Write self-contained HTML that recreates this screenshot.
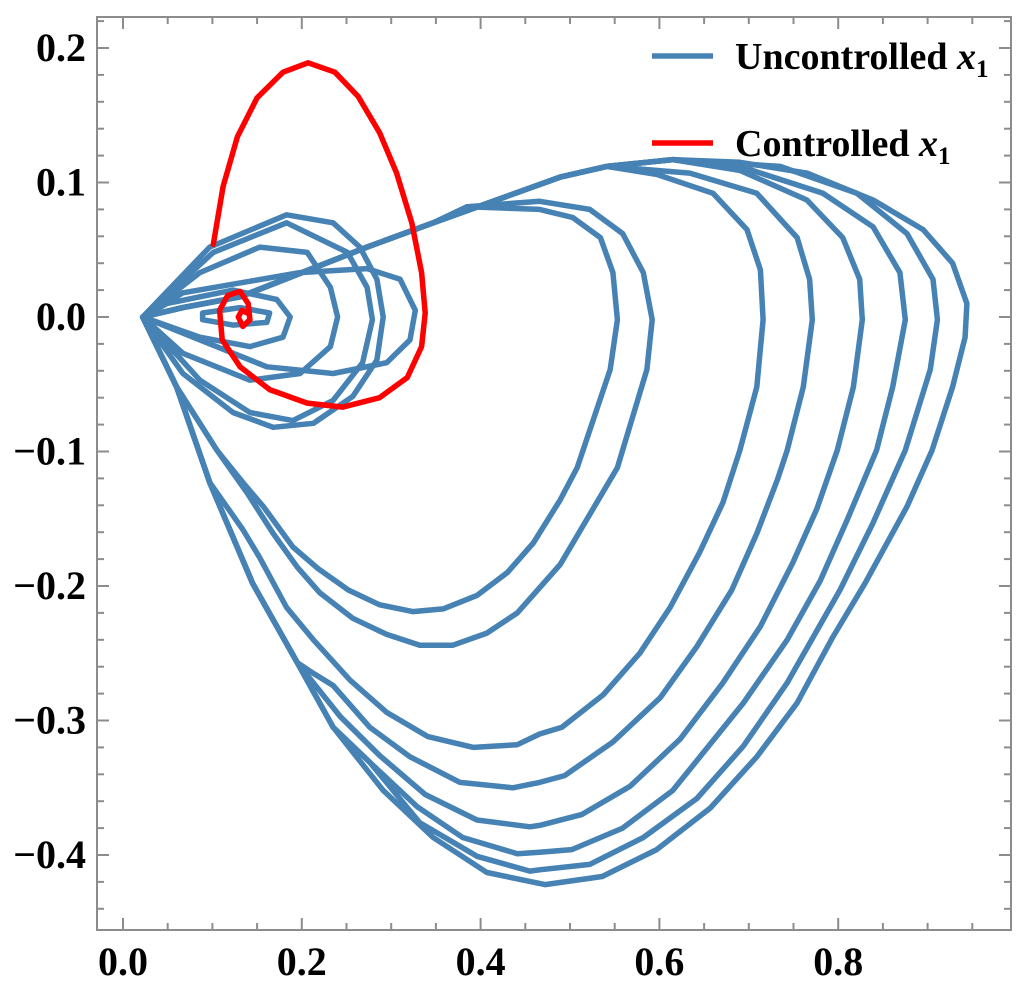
<!DOCTYPE html>
<html><head><meta charset="utf-8"><style>
html,body{margin:0;padding:0;background:#fff;}
svg{display:block;}
text{font-family:"Liberation Serif",serif;font-weight:bold;fill:#000;}
</style></head><body>
<svg id="chart" width="1024" height="996" viewBox="0 0 1024 996">
<g id="ticks"></g>
<g id="series"></g>
<rect x="97" y="17" width="914" height="913" fill="none" stroke="#8c8c8c" stroke-width="2"/>
<g id="labels"></g>
<g>
  <line x1="652" y1="56" x2="713" y2="56" stroke="#4682b4" stroke-width="5.5"/>
  <text x="735" y="69" font-size="38">Uncontrolled <tspan font-style="italic">x</tspan><tspan font-size="25" dy="8">1</tspan></text>
  <line x1="652" y1="143" x2="713" y2="143" stroke="#ff0000" stroke-width="5.5"/>
  <text x="735" y="156" font-size="38">Controlled <tspan font-style="italic">x</tspan><tspan font-size="25" dy="8">1</tspan></text>
</g>
</svg>
<script>
const xTickLabels = ["0.0","0.2","0.4","0.6","0.8"];
const xTickValues = [0,0.2,0.4,0.6,0.8];
const yTickLabels = ["0.2","0.1","0.0","\u22120.1","\u22120.2","\u22120.3","\u22120.4"];
const yTickValues = [0.2,0.1,0,-0.1,-0.2,-0.3,-0.4];

const startPath = [[.022,0],[.067,.007],[.131,.015],[.273,.052],[.347,.070],[.489,.104]];
const tailPath = [[.097,-.123],[.060,-.052],[.022,0]];

const loopL1 = [[.541,.112],[.597,.106],[.660,.092],[.698,.065],[.713,.035],[.716,-.002],[.709,-.052],[.690,-.099],[.671,-.138],[.645,-.175],[.612,-.216],[.578,-.250],[.537,-.281],[.491,-.305],[.466,-.310],[.441,-.318],[.392,-.320],[.341,-.312],[.295,-.294],[.254,-.270],[.213,-.240],[.183,-.216],[.153,-.179],[.134,-.158]];
const loopL2 = [[.541,.112],[.634,.107],[.709,.092],[.754,.059],[.768,.028],[.771,-.002],[.761,-.052],[.743,-.099],[.732,-.121],[.709,-.161],[.681,-.203],[.642,-.245],[.601,-.283],[.548,-.316],[.494,-.341],[.466,-.346],[.436,-.350],[.377,-.346],[.321,-.327],[.276,-.305],[.235,-.274],[.213,-.265],[.195,-.257],[.145,-.198]];
const loopL3 = [[.541,.112],[.615,.117],[.690,.109],[.765,.087],[.805,.059],[.824,.028],[.827,-.002],[.817,-.052],[.799,-.099],[.776,-.143],[.749,-.183],[.713,-.230],[.671,-.272],[.623,-.314],[.567,-.349],[.513,-.370],[.466,-.378],[.455,-.379],[.396,-.374],[.338,-.355],[.287,-.326],[.243,-.297],[.195,-.257],[.145,-.198]];
const loopL4 = [[.541,.112],[.615,.117],[.690,.112],[.783,.092],[.839,.067],[.869,.033],[.875,-.002],[.861,-.052],[.843,-.099],[.810,-.151],[.780,-.196],[.743,-.240],[.694,-.287],[.615,-.352],[.559,-.380],[.502,-.396],[.466,-.398],[.441,-.399],[.380,-.387],[.329,-.364],[.276,-.331],[.235,-.305],[.195,-.257],[.145,-.198]];
const loopL5 = [[.541,.112],[.615,.117],[.735,.112],[.821,.092],[.877,.062],[.906,.028],[.911,-.002],[.903,-.039],[.875,-.099],[.839,-.153],[.802,-.203],[.743,-.272],[.694,-.319],[.642,-.358],[.582,-.387],[.522,-.407],[.466,-.411],[.455,-.412],[.396,-.401],[.332,-.376],[.276,-.331],[.235,-.305],[.195,-.257],[.145,-.198]];
const loopL6 = [[.541,.112],[.615,.117],[.690,.115],[.765,.107],[.839,.087],[.895,.065],[.928,.040],[.944,.010],[.942,-.015],[.928,-.052],[.905,-.099],[.877,-.141],[.830,-.198],[.794,-.238],[.754,-.287],[.709,-.327],[.657,-.365],[.597,-.396],[.536,-.416],[.472,-.422],[.407,-.413],[.347,-.387],[.291,-.352],[.235,-.305],[.195,-.257],[.145,-.198]];
const loopS1 = [[.022,0],[.067,.007],[.131,.015],[.273,.052],[.347,.070],[.385,.082],[.466,.080],[.503,.074],[.534,.059],[.548,.033],[.553,-.002],[.545,-.039],[.508,-.112],[.489,-.136],[.459,-.168],[.430,-.190],[.396,-.207],[.358,-.217],[.324,-.219],[.287,-.214],[.252,-.203],[.218,-.187],[.190,-.171],[.157,-.141],[.134,-.123],[.105,-.099],[.060,-.052],[.022,0]];
const loopS2 = [[.022,0],[.067,.007],[.131,.015],[.273,.052],[.347,.070],[.385,.082],[.466,.086],[.522,.080],[.559,.062],[.582,.033],[.592,-.002],[.586,-.039],[.553,-.112],[.489,-.184],[.441,-.220],[.407,-.235],[.369,-.244],[.332,-.244],[.295,-.236],[.257,-.224],[.220,-.205],[.195,-.186],[.168,-.161],[.139,-.131],[.105,-.099],[.060,-.052],[.022,0]];
const loopA = [[.022,0],[.097,.052],[.183,.076],[.235,.070],[.265,.052],[.284,.028],[.291,0],[.284,-.032],[.257,-.059],[.213,-.079],[.168,-.082],[.123,-.071],[.067,-.042],[.022,0]];
const loopB = [[.022,0],[.101,.048],[.183,.070],[.251,.048],[.273,.022],[.279,-.002],[.268,-.034],[.235,-.062],[.190,-.077],[.142,-.071],[.086,-.047],[.022,0]];
const loopC = [[.022,0],[.086,.033],[.153,.052],[.206,.048],[.232,.022],[.240,0],[.232,-.022],[.198,-.042],[.142,-.047],[.067,-.027],[.022,0]];
const loopD = [[.022,0],[.067,.018],[.198,.033],[.273,.036],[.310,.028],[.327,.005],[.321,-.017],[.295,-.034],[.235,-.042],[.161,-.037],[.086,-.017],[.022,0]];
const loopE = [[.022,0],[.049,.010],[.123,.020],[.172,.013],[.187,0],[.179,-.015],[.142,-.022],[.086,-.015],[.022,0]];
const loopF = [[.089,.003],[.131,.007],[.164,.003],[.161,-.004],[.123,-.006],[.089,-.002],[.089,.003]];
const controlledX1 = [[.101,.054],[.112,.097],[.128,.134],[.150,.163],[.179,.182],[.207,.189],[.237,.182],[.263,.164],[.287,.137],[.306,.107],[.323,.070],[.334,.033],[.338,.003],[.334,-.022],[.318,-.045],[.287,-.060],[.246,-.067],[.206,-.064],[.164,-.054],[.131,-.037],[.111,-.017],[.108,.005],[.117,.016],[.131,.019],[.140,.010],[.142,-.002],[.134,-.007],[.129,0],[.133,.005],[.139,.003]];

const NS = "http://www.w3.org/2000/svg";
function sx(v){return 123 + 894*v;}
function sy(v){return 317 - 1345*v;}
const X0=97,X1=1011,Y0=17,Y1=930;

const tg = document.getElementById('ticks');
function tick(x1,y1,x2,y2,name){
  const l=document.createElementNS(NS,'line');
  l.setAttribute('x1',x1);l.setAttribute('y1',y1);l.setAttribute('x2',x2);l.setAttribute('y2',y2);
  l.setAttribute('stroke','#8c8c8c');l.setAttribute('stroke-width','2');
  
  
  tg.appendChild(l);
}
for(let i=0;i<=19;i++){
  const v=i*0.05; const x=sx(v); if(x>X1-2) continue;
  const major = (i%4===0); const len = major?12:7;
  tick(x,Y1,x,Y1-len,'x-tick');
  tick(x,Y0,x,Y0+len,'x-tick-top');
}
for(let i=-22;i<=11;i++){
  const v=i*0.02; const y=sy(v); if(y<Y0+2||y>Y1-2) continue;
  const major = (i%5===0); const len = major?12:7;
  tick(X0,y,X0+len,y,'y-tick');
  tick(X1,y,X1-len,y,'y-tick-right');
}
const lg=document.getElementById('labels');
xTickValues.forEach((v,i)=>{
  const t=document.createElementNS(NS,'text');
  t.setAttribute('x',sx(v));t.setAttribute('y',975);t.setAttribute('text-anchor','middle');t.setAttribute('font-size','40');
  t.textContent=xTickLabels[i];
  
  
  lg.appendChild(t);
});
yTickValues.forEach((v,i)=>{
  const t=document.createElementNS(NS,'text');
  t.setAttribute('x',86);t.setAttribute('y',sy(v)+13);t.setAttribute('text-anchor','end');t.setAttribute('font-size','40');
  t.textContent=yTickLabels[i];
  
  
  lg.appendChild(t);
});

const sg=document.getElementById('series');
function draw(pts,color,name){
  const p=document.createElementNS(NS,'polyline');
  p.setAttribute('points',pts.map(q=>sx(q[0]).toFixed(1)+','+sy(q[1]).toFixed(1)).join(' '));
  p.setAttribute('fill','none');p.setAttribute('stroke',color);p.setAttribute('stroke-width','5.5');
  p.setAttribute('stroke-linejoin','round');p.setAttribute('stroke-linecap','round');
  
  
  sg.appendChild(p);
}
const blue='#4682b4';
[[loopL1,'l1'],[loopL2,'l2'],[loopL3,'l3'],[loopL4,'l4'],[loopL5,'l5'],[loopL6,'l6']].forEach(a=>{
  draw(startPath.concat(a[0]).concat(tailPath),blue,'uncontrolled-loop-'+a[1]);
});
draw(loopS1,blue,'uncontrolled-loop-s1');
draw(loopS2,blue,'uncontrolled-loop-s2');
draw(loopA,blue,'uncontrolled-loop-a');
draw(loopB,blue,'uncontrolled-loop-b');
draw(loopC,blue,'uncontrolled-loop-c');
draw(loopD,blue,'uncontrolled-loop-d');
draw(loopE,blue,'uncontrolled-loop-e');
draw(loopF,blue,'uncontrolled-loop-f');
draw(controlledX1,'#ff0000','controlled-x1-line');
</script>
</body></html>
